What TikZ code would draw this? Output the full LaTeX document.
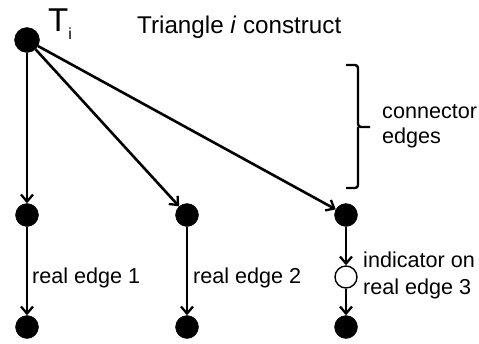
\documentclass[tikz,border=0pt]{standalone}
\usepackage{fontspec}
\setmainfont{Liberation Sans}
\usetikzlibrary{arrows.meta, positioning}

\begin{document}
\begin{tikzpicture}[x=1pt, y=-1pt,
  vertex/.style={circle, fill=black, draw=black, minimum size=23pt, inner sep=0pt},
  indicator/.style={circle, fill=white, draw=black, line width=1.4pt, minimum size=22pt, inner sep=0pt},
  edge/.style={line width=2.6pt, -{Straight Barb[length=7pt, width=12pt, line width=2.3pt]}},
  lbl/.style={font=\fontsize{21.6}{25}\selectfont, inner sep=0pt, anchor=base west, align=left}]
  \useasboundingbox (0,0) rectangle (479,343);

  % Triangle vertex and its label
  \node[vertex, minimum size=25pt] (T) at (27,40) {};
  \node[anchor=base west, inner sep=0pt, font=\fontsize{33}{33}\selectfont] (Tlabel) at (48,31) {T\raisebox{-8pt}{\fontsize{16}{16}\selectfont i}};
  \node[anchor=base west, inner sep=0pt, font=\fontsize{24.2}{28}\selectfont] (title) at (137,33) {Triangle \textit{i} construct};

  % Ends of the real edges
  \node[vertex] (a1) at (27,215) {};
  \node[vertex] (b1) at (187,215) {};
  \node[vertex] (c1) at (346,215) {};
  \node[vertex] (a2) at (27,327) {};
  \node[vertex] (b2) at (187,327) {};
  \node[indicator] (c2) at (346,277) {};
  \node[vertex] (c3) at (346,327) {};

  % Connector edges
  \draw[edge] (T) -- (a1);
  \draw[edge] (T) -- (b1);
  \draw[edge] (T) -- (c1);

  % Real edges
  \draw[edge] (a1) -- (a2);
  \draw[edge] (b1) -- (b2);
  \draw[edge] (c1) -- (c2);
  \draw[edge] (c2) -- (c3);

  % Brace for the connector edges
  \coordinate (brtop) at (346,65);
  \coordinate (brtip) at (370,127);
  \coordinate (brbot) at (346,188);
  \draw[line width=2.4pt, rounded corners=3pt]
    (brtop) -- (358,65) -- (358,127) -- (brtip)
    (358,127) -- (358,188) -- (brbot);

  % Labels
  \node[lbl] (conn) at (382,143) {connector\\edges};
  \node[lbl] (r1) at (32,283) {real edge 1};
  \node[lbl] (r2) at (193,283) {real edge 2};
  \node[lbl] (ind) at (363,294) {indicator on\\[2pt]real edge 3};
\end{tikzpicture}
\end{document}
